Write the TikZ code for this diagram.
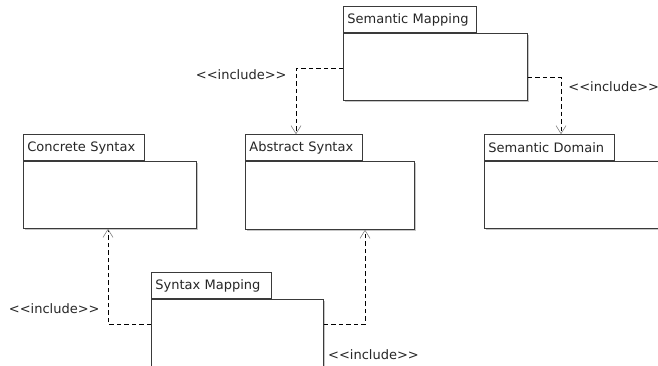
\documentclass[tikz,border=0pt]{standalone}
\usepackage{fontspec}
\setmainfont{DejaVu Sans}
\usetikzlibrary{arrows.meta,shadows}

\definecolor{boxline}{HTML}{3A3A3A}
\definecolor{txtcol}{HTML}{262626}
\tikzset{
  pkgbody/.style={draw=boxline, fill=white, anchor=north west, inner sep=0pt,
    drop shadow={shadow xshift=1.5pt, shadow yshift=-1.5pt, opacity=.45}},
  pkgtab/.style={draw=boxline, fill=white, anchor=south west, text width=#1,
    minimum height=26pt, inner xsep=4pt, align=left, text=txtcol,
    font=\fontsize{13}{15}\selectfont},
  incl/.style={dashed, dash pattern=on 4.5pt off 3pt, line width=.8pt,
    -{Straight Barb[length=8pt, width=10pt, line width=.6pt, color=gray]}},
  lbl/.style={font=\fontsize{13}{15}\selectfont, inner sep=0pt, text=txtcol}
}

\begin{document}
\begin{tikzpicture}[x=1pt, y=-1pt, line width=.8pt]
\useasboundingbox (0,0) rectangle (658,366);
\clip (0,0) rectangle (658,366);
% packages
\node[pkgbody, minimum width=184pt, minimum height=67pt] (semmap) at (343,33) {};
\node[pkgtab=125pt] (semmaptab) at (semmap.north west) {Semantic Mapping};
\node[pkgbody, minimum width=173pt, minimum height=67pt] (concsyn) at (23,161) {};
\node[pkgtab=113pt] (concsyntab) at (concsyn.north west) {Concrete Syntax};
\node[pkgbody, minimum width=169pt, minimum height=68pt] (absyn) at (245,161) {};
\node[pkgtab=109pt] (absyntab) at (absyn.north west) {Abstract Syntax};
\node[pkgbody, minimum width=230pt, minimum height=67pt] (semdom) at (484,161) {};
\node[pkgtab=122pt] (semdomtab) at (semdom.north west) {Semantic Domain};
\node[pkgbody, minimum width=172pt, minimum height=80pt] (synmap) at (151,299) {};
\node[pkgtab=112pt] (synmaptab) at (synmap.north west) {Syntax Mapping};
% include dependencies
\draw[incl] ([yshift=-1.5pt]semmap.west) -| ([xshift=51pt]absyntab.north west)
  node[lbl, pos=.545, anchor=east, xshift=-9pt] {<{}<include>{}>};
\draw[incl] ([yshift=-10.5pt]semmap.east) -| ([xshift=77pt]semdomtab.north west)
  node[lbl, pos=.58, anchor=west, xshift=7pt] {<{}<include>{}>};
\draw[incl] ([yshift=15pt]synmap.west) -| ([xshift=85pt]concsyn.south west)
  node[lbl, pos=.58, anchor=east, xshift=-8pt] {<{}<include>{}>};
\draw[incl] ([yshift=15pt]synmap.east) -| ([xshift=120pt]absyn.south west)
  node[lbl, pos=0, anchor=west, xshift=4pt, yshift=-30pt] {<{}<include>{}>};
\end{tikzpicture}
\end{document}
